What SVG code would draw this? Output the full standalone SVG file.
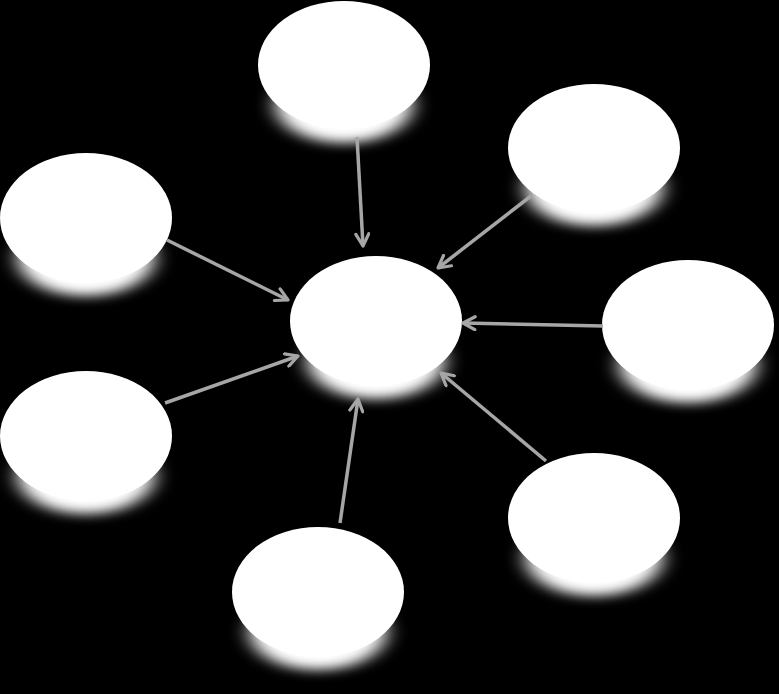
<svg xmlns="http://www.w3.org/2000/svg" width="779" height="694" viewBox="0 0 779 694">
<style>
.node{fill:#fff}
.glow{fill:#fff;filter:url(#blur)}
.conn line{stroke:#a6a6a6;stroke-width:3.5;marker-end:url(#arr)}
</style>
<defs>
<filter id="blur" x="-50%" y="-50%" width="200%" height="200%"><feGaussianBlur stdDeviation="10 6"/></filter>
<marker id="arr" viewBox="0 0 16 16" refX="14" refY="8" markerWidth="16" markerHeight="16" markerUnits="userSpaceOnUse" orient="auto">
<polyline points="2,1.5 14,8 2,14.5" fill="none" stroke="#a6a6a6" stroke-width="3.2" stroke-linecap="round" stroke-linejoin="round"/>
</marker>
</defs>
<rect width="779" height="694" fill="#000"/>
<g id="node-top"><ellipse class="glow" cx="344" cy="105" rx="68" ry="38"/><ellipse class="node" cx="344" cy="65" rx="86" ry="64"/></g>
<g id="node-upper-right"><ellipse class="glow" cx="594" cy="188" rx="68" ry="38"/><ellipse class="node" cx="594" cy="148" rx="86" ry="64"/></g>
<g id="node-upper-left"><ellipse class="glow" cx="86" cy="258" rx="68" ry="38"/><ellipse class="node" cx="86" cy="218" rx="86" ry="65"/></g>
<g id="node-right"><ellipse class="glow" cx="688" cy="365" rx="68" ry="38"/><ellipse class="node" cx="688" cy="325" rx="86" ry="65"/></g>
<g id="node-center"><ellipse class="glow" cx="376" cy="361" rx="68" ry="38"/><ellipse class="node" cx="376" cy="321" rx="86" ry="65"/></g>
<g id="node-lower-left"><ellipse class="glow" cx="86" cy="476" rx="68" ry="38"/><ellipse class="node" cx="86" cy="436" rx="86" ry="65"/></g>
<g id="node-lower-right"><ellipse class="glow" cx="594" cy="558" rx="68" ry="38"/><ellipse class="node" cx="594" cy="518" rx="86" ry="65"/></g>
<g id="node-bottom"><ellipse class="glow" cx="318" cy="632" rx="68" ry="38"/><ellipse class="node" cx="318" cy="592" rx="86" ry="65"/></g>
<g id="connectors" class="conn">
<line x1="357" y1="137" x2="363" y2="246"/>
<line x1="531" y1="196" x2="438" y2="268"/>
<line x1="603" y1="326" x2="463" y2="323"/>
<line x1="546" y1="461" x2="441" y2="373"/>
<line x1="340" y1="523" x2="358" y2="399"/>
<line x1="165" y1="403" x2="298" y2="356"/>
<line x1="167" y1="240" x2="288" y2="300"/>
</g>
</svg>
